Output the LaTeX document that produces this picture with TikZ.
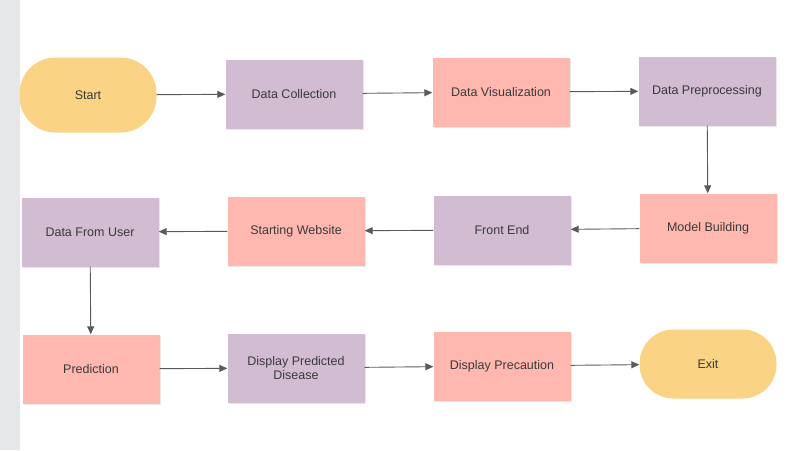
\documentclass[tikz,border=0pt]{standalone}
\usepackage{fontspec}
\setmainfont{Liberation Sans}
\usetikzlibrary{arrows.meta,shadows}
\definecolor{StripGray}{HTML}{E6E7E9}
\definecolor{TermYellow}{HTML}{FAD384}
\definecolor{StepPurple}{HTML}{D1BCD2}
\definecolor{StepPink}{HTML}{FFB8B0}
\definecolor{TextDark}{HTML}{3A3A3A}
\definecolor{LinkGray}{HTML}{5A5A5A}

\begin{document}
\begin{tikzpicture}[x=1pt,y=-1pt,
    every node/.style={font=\fontsize{12.5}{14}\selectfont, text=TextDark, align=center},
    stepbox/.style={minimum width=137pt, minimum height=69pt, inner sep=2pt,
      drop shadow={opacity=0.18, shadow xshift=1pt, shadow yshift=-1.5pt}},
    purplebox/.style={stepbox, fill=StepPurple},
    pinkbox/.style={stepbox, fill=StepPink},
    termbox/.style={minimum width=137pt, minimum height=75pt, inner sep=2pt,
      rounded corners=36pt, fill=TermYellow},
    link/.style={draw=LinkGray, line width=0.9pt, -{Triangle[length=8pt,width=7pt]}}]
  \useasboundingbox (0,0) rectangle (805,450);
  \fill[StripGray] (0,0) rectangle (20,450);
  % first row
  \node[termbox] (start) at (88,95) {Start};
  \node[purplebox] (collect) at (294,94) {Data Collection};
  \node[pinkbox] (visual) at (501,92) {Data Visualization};
  \node[purplebox] (prepro) at (707,91) {Data Preprocessing};
  % second row
  \node[pinkbox] (model) at (708,228) {Model Building};
  \node[purplebox] (front) at (502,230) {Front End};
  \node[pinkbox] (website) at (296,231) {Starting Website};
  \node[purplebox] (user) at (90,232) {Data From User};
  % third row
  \node[pinkbox] (predict) at (91,369) {Prediction};
  \node[purplebox] (disease) at (296,368) {Display Predicted\\Disease};
  \node[pinkbox] (caution) at (502,366) {Display Precaution};
  \node[termbox, minimum height=69pt, rounded corners=34pt] (exit) at (708,364) {Exit};
  % links
  \draw[link] (start) -- (collect);
  \draw[link] (collect) -- (visual);
  \draw[link] (visual) -- (prepro);
  \draw[link] (prepro) -- (model);
  \draw[link] (model) -- (front);
  \draw[link] (front) -- (website);
  \draw[link] (website) -- (user);
  \draw[link] (user) -- (predict);
  \draw[link] (predict) -- (disease);
  \draw[link] (disease) -- (caution);
  \draw[link] (caution) -- (exit);
\end{tikzpicture}
\end{document}
